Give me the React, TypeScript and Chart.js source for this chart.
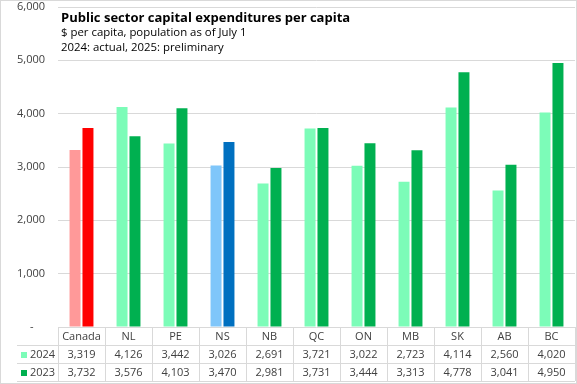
import React, { useEffect, useRef } from "react";
import { Chart, registerables } from "chart.js";

Chart.register(...registerables);

const categories = ["Canada", "NL", "PE", "NS", "NB", "QC", "ON", "MB", "SK", "AB", "BC"];
const series2024 = [3319, 4126, 3442, 3026, 2691, 3721, 3022, 2723, 4114, 2560, 4020];
const series2023 = [3732, 3576, 4103, 3470, 2981, 3731, 3444, 3313, 4778, 3041, 4950];
const seriesLabels = ["2024", "2023"];
const title = "Public sector capital expenditures per capita";
const subtitle1 = "$ per capita, population as of July 1";
const subtitle2 = "2024: actual, 2025: preliminary";

const light2024 = "#7CFCB8";
const dark2023 = "#00B050";
const colors2024 = categories.map((c) => (c === "Canada" ? "#FF9999" : c === "NS" ? "#7FC6FA" : light2024));
const colors2023 = categories.map((c) => (c === "Canada" ? "#FF0000" : c === "NS" ? "#0070C0" : dark2023));

const FONT = "'Open Sans', sans-serif";
const GRID = "#d9d9d9";
const TEXT = "#404040";

const fmt = (v: number) => v.toLocaleString("en-US");

const tablePlugin = {
  id: "tablePlugin",
  afterDraw(chart: any) {
    const ctx = chart.ctx as CanvasRenderingContext2D;
    const area = chart.chartArea;
    const x = chart.scales.x;
    const n = categories.length;
    const step = (area.right - area.left) / n;
    const rowH = 18;
    const y0 = area.bottom;
    ctx.save();
    ctx.strokeStyle = GRID;
    ctx.lineWidth = 1;
    ctx.strokeRect(0.5, 0.5, chart.width - 1, chart.height - 1);
    ctx.beginPath();
    for (let r = 1; r <= 3; r++) {
      const yy = Math.round(y0 + rowH * r) + 0.5;
      ctx.moveTo(17, yy);
      ctx.lineTo(area.right, yy);
    }
    for (let i = 0; i <= n; i++) {
      const xx = Math.round(area.left + step * i) + 0.5;
      ctx.moveTo(xx, y0);
      ctx.lineTo(xx, y0 + rowH * 3);
    }
    ctx.stroke();
    ctx.fillStyle = TEXT;
    ctx.font = `11px ${FONT}`;
    ctx.textAlign = "center";
    ctx.textBaseline = "middle";
    categories.forEach((c, i) => {
      const cx = x.getPixelForValue(i);
      ctx.fillText(c, cx, y0 + rowH * 0.5 + 1);
      ctx.fillText(fmt(series2024[i]), cx, y0 + rowH * 1.5 + 1);
      ctx.fillText(fmt(series2023[i]), cx, y0 + rowH * 2.5 + 1);
    });
    ctx.textAlign = "left";
    const keyColors = [light2024, dark2023];
    seriesLabels.forEach((l, r) => {
      const cy = y0 + rowH * (1.5 + r) + 1;
      ctx.fillStyle = keyColors[r];
      ctx.fillRect(21, cy - 3, 6, 6);
      ctx.fillStyle = TEXT;
      ctx.fillText(l, 30, cy);
    });
    ctx.fillStyle = "#000";
    ctx.textBaseline = "alphabetic";
    ctx.font = `bold 13px ${FONT}`;
    ctx.fillText(title, area.left + 3, 22);
    ctx.font = `11.4px ${FONT}`;
    ctx.fillText(subtitle1, area.left + 3, 36);
    ctx.fillText(subtitle2, area.left + 3, 51);
    ctx.restore();
  },
};

export default function App() {
  const ref = useRef<HTMLCanvasElement>(null);
  useEffect(() => {
    document.body.style.margin = "0";
    const chart = new Chart(ref.current!, {
      type: "bar",
      data: {
        labels: categories,
        datasets: [
          { label: seriesLabels[0], data: series2024, backgroundColor: colors2024, categoryPercentage: 0.55, barPercentage: 0.85 },
          { label: seriesLabels[1], data: series2023, backgroundColor: colors2023, categoryPercentage: 0.55, barPercentage: 0.85 },
        ],
      },
      options: {
        responsive: false,
        animation: false,
        layout: { padding: { top: 7, right: 2, left: 0, bottom: 0 } },
        plugins: { legend: { display: false }, title: { display: false }, tooltip: { enabled: false } },
        scales: {
          x: {
            ticks: { display: false },
            grid: { display: false },
            border: { display: false },
            afterFit: (s: any) => { s.height = 57; s.paddingLeft = 0; s.paddingRight = 0; },
          },
          y: {
            min: 0,
            max: 6000,
            ticks: {
              stepSize: 1000,
              color: TEXT,
              font: { family: FONT, size: 11 },
              padding: 13,
              callback: (v: any) => (v === 0 ? "-    " : fmt(v)),
            },
            grid: { color: GRID, drawTicks: false },
            border: { display: false },
            afterFit: (s: any) => { s.width = 58; s.paddingTop = 0; s.paddingBottom = 0; },
          },
        },
      },
      plugins: [tablePlugin],
    });
    return () => chart.destroy();
  }, []);
  return <canvas ref={ref} width={577} height={384} style={{ display: "block" }} />;
}
